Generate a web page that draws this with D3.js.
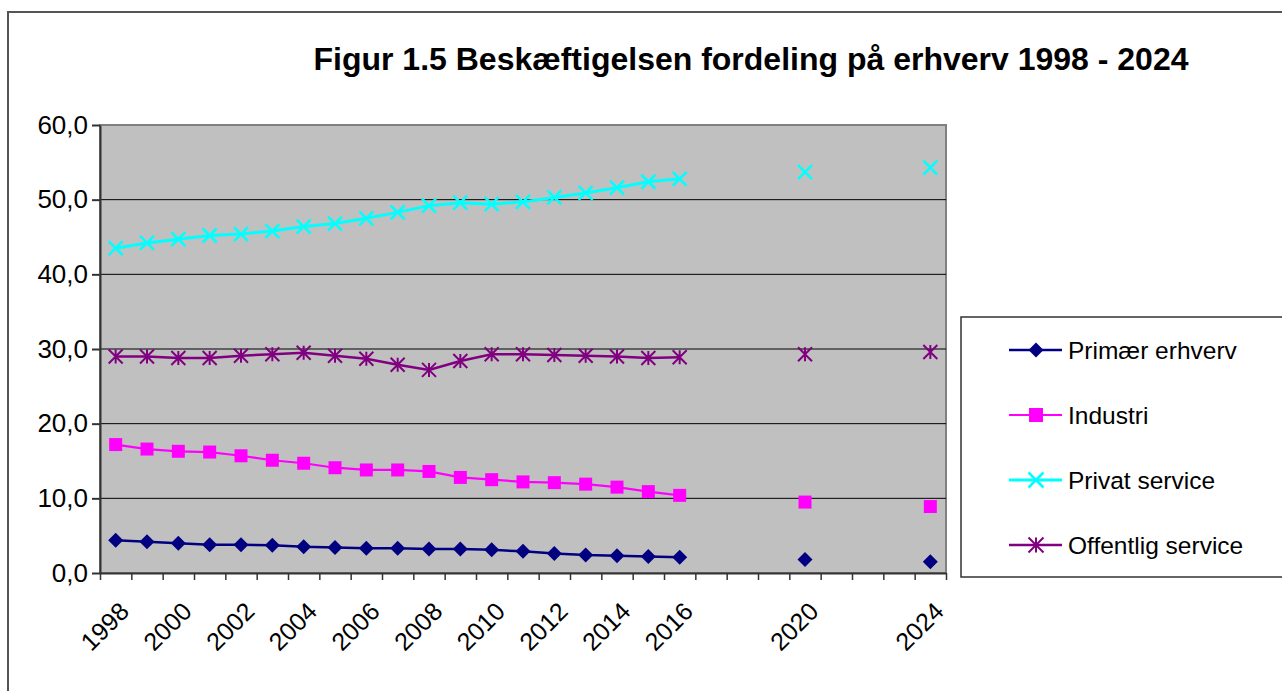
<!DOCTYPE html>
<html>
<head>
<meta charset="utf-8">
<script src="https://cdn.jsdelivr.net/npm/d3@7"></script>
<style>
  body { margin: 0; background: #fff; }
  svg { display: block; font-family: "Liberation Sans", Arial, sans-serif; }
</style>
</head>
<body>
<div id="chart"></div>
<script>
// categories (one per year, only some get a label)
const years = [1998, 1999, 2000, 2001, 2002, 2003, 2004, 2005, 2006, 2007, 2008, 2009, 2010,
  2011, 2012, 2013, 2014, 2015, 2016, 2017, 2018, 2019, 2020, 2021, 2022, 2023, 2024];
const tickLabels = ["1998", "", "2000", "", "2002", "", "2004", "", "2006", "", "2008", "", "2010",
  "", "2012", "", "2014", "", "2016", "", "", "", "2020", "", "", "", "2024"];
const yTicks = [0, 10, 20, 30, 40, 50, 60];

// series values (null = no data)
const primaer = [4.4, 4.2, 4.0, 3.8, 3.8, 3.7, 3.5, 3.4, 3.3, 3.3, 3.2, 3.2, 3.1, 2.9, 2.6, 2.4, 2.3, 2.2, 2.1,
  null, null, null, 1.8, null, null, null, 1.5];
const industri = [17.2, 16.6, 16.3, 16.2, 15.7, 15.1, 14.7, 14.1, 13.8, 13.8, 13.6, 12.8, 12.5, 12.2, 12.1, 11.9, 11.5, 10.9, 10.4,
  null, null, null, 9.5, null, null, null, 8.9];
const privat = [43.5, 44.2, 44.7, 45.2, 45.4, 45.8, 46.4, 46.8, 47.5, 48.3, 49.2, 49.6, 49.4, 49.7, 50.3, 50.9, 51.6, 52.4, 52.8,
  null, null, null, 53.7, null, null, null, 54.3];
const offentlig = [29.0, 29.0, 28.8, 28.8, 29.1, 29.3, 29.5, 29.1, 28.7, 27.9, 27.2, 28.4, 29.3, 29.3, 29.2, 29.1, 29.0, 28.8, 28.9,
  null, null, null, 29.3, null, null, null, 29.6];

const seriesNames = ["Primær erhverv", "Industri", "Privat service", "Offentlig service"];
const seriesValues = [primaer, industri, privat, offentlig];

const W = 1282, H = 691;
const plot = {left: 100, right: 946, top: 125, bottom: 573};

const svg = d3.select("#chart").append("svg")
  .attr("width", W)
  .attr("height", H);

// outer chart frame (runs off the right and bottom)
svg.append("rect")
  .attr("x", 8).attr("y", 12)
  .attr("width", W + 20).attr("height", H + 20)
  .attr("fill", "none")
  .attr("stroke", "#555")
  .attr("stroke-width", 2);

svg.append("text")
  .attr("x", 751).attr("y", 70)
  .attr("text-anchor", "middle")
  .attr("font-size", 32)
  .attr("font-weight", "bold")
  .text("Figur 1.5 Beskæftigelsen fordeling på erhverv 1998 - 2024");

const x = d3.scaleBand()
  .domain(years)
  .range([plot.left, plot.right])
  .padding(0);

const y = d3.scaleLinear()
  .domain([0, 60])
  .range([plot.bottom, plot.top]);

// plot area
svg.append("rect")
  .attr("x", plot.left).attr("y", plot.top)
  .attr("width", plot.right - plot.left)
  .attr("height", plot.bottom - plot.top)
  .attr("fill", "#c0c0c0")
  .attr("stroke", "#808080")
  .attr("stroke-width", 2);

// gridlines
svg.append("g")
  .selectAll("line")
  .data(yTicks.filter(d => d > 0 && d < 60))
  .join("line")
    .attr("x1", plot.left).attr("x2", plot.right)
    .attr("y1", d => y(d)).attr("y2", d => y(d))
    .attr("stroke", "#000")
    .attr("stroke-width", 1);

// y axis
const yAxis = svg.append("g")
  .attr("transform", `translate(${plot.left},0)`)
  .call(d3.axisLeft(y).tickValues(yTicks).tickSize(8).tickSizeOuter(0)
    .tickFormat(d => d3.format(".1f")(d).replace(".", ",")));
yAxis.select(".domain").attr("stroke", "#333").attr("stroke-width", 2);
yAxis.selectAll(".tick line").attr("stroke", "#333").attr("stroke-width", 2);
yAxis.selectAll("text")
  .attr("x", -12)
  .attr("font-size", 26)
  .attr("font-family", "Liberation Sans, Arial, sans-serif")
  .attr("fill", "#000");

// x axis: tick marks on the category boundaries
const xb = d3.scaleLinear().domain([0, years.length]).range([plot.left, plot.right]);
const xAxis = svg.append("g")
  .attr("transform", `translate(0,${plot.bottom})`)
  .call(d3.axisBottom(xb).tickValues(d3.range(years.length + 1)).tickSize(7).tickSizeOuter(0).tickFormat(""));
xAxis.select(".domain").attr("stroke", "#333").attr("stroke-width", 2);
xAxis.selectAll(".tick line").attr("stroke", "#333").attr("stroke-width", 1.5);

// x labels, rotated
const xLab = svg.append("g")
  .attr("transform", `translate(0,${plot.bottom})`)
  .call(d3.axisBottom(x).tickSize(0).tickFormat((d, i) => tickLabels[i]));
xLab.select(".domain").remove();
xLab.selectAll("text")
  .attr("x", 0).attr("y", 0).attr("dy", 0)
  .attr("transform", "translate(15,40) rotate(-45)")
  .attr("text-anchor", "end")
  .attr("font-size", 25)
  .attr("font-family", "Liberation Sans, Arial, sans-serif")
  .attr("fill", "#000");

const colors = ["#000080", "#ff00ff", "#00ffff", "#800080"];
const widths = [2.5, 2.2, 3, 2.5];

function drawMarker(g, i, size) {
  const h = size / 2;
  if (i === 0) {
    g.append("path").attr("d", `M0,${-h}L${h},0L0,${h}L${-h},0Z`).attr("fill", colors[i]);
  } else if (i === 1) {
    g.append("rect").attr("x", -h + 0.5).attr("y", -h + 0.5)
      .attr("width", size - 1).attr("height", size - 1).attr("fill", colors[i]);
  } else if (i === 2) {
    g.append("path").attr("d", `M${-h},${-h}L${h},${h}M${-h},${h}L${h},${-h}`)
      .attr("stroke", colors[i]).attr("stroke-width", 2.5).attr("fill", "none");
  } else {
    g.append("path").attr("d", `M${-h},${-h}L${h},${h}M${-h},${h}L${h},${-h}M0,${-h}L0,${h}`)
      .attr("stroke", colors[i]).attr("stroke-width", 2).attr("fill", "none");
  }
}

const line = d3.line()
  .defined(d => d.v != null)
  .x(d => x(d.year) + x.bandwidth() / 2)
  .y(d => y(d.v));

seriesValues.forEach((vals, i) => {
  const data = years.map((yr, j) => ({year: yr, v: vals[j]}));
  svg.append("path")
    .datum(data)
    .attr("d", line)
    .attr("fill", "none")
    .attr("stroke", colors[i])
    .attr("stroke-width", widths[i]);
  svg.append("g")
    .selectAll("g")
    .data(data.filter(d => d.v != null))
    .join("g")
      .attr("transform", d => `translate(${x(d.year) + x.bandwidth() / 2},${y(d.v)})`)
      .each(function () { drawMarker(d3.select(this), i, i === 0 ? 15 : 14); });
});

// legend
const legend = svg.append("g");
legend.append("rect")
  .attr("x", 961).attr("y", 317)
  .attr("width", 340).attr("height", 260)
  .attr("fill", "#fff")
  .attr("stroke", "#333")
  .attr("stroke-width", 1.5);

seriesNames.forEach((name, i) => {
  const ly = 350 + i * 65;
  legend.append("line")
    .attr("x1", 1009).attr("x2", 1062)
    .attr("y1", ly).attr("y2", ly)
    .attr("stroke", colors[i]).attr("stroke-width", widths[i]);
  drawMarker(legend.append("g").attr("transform", `translate(1036,${ly})`), i, 15);
  legend.append("text")
    .attr("x", 1068).attr("y", ly)
    .attr("dy", "0.35em")
    .attr("font-size", 24.5)
    .text(name);
});
</script>
</body>
</html>
